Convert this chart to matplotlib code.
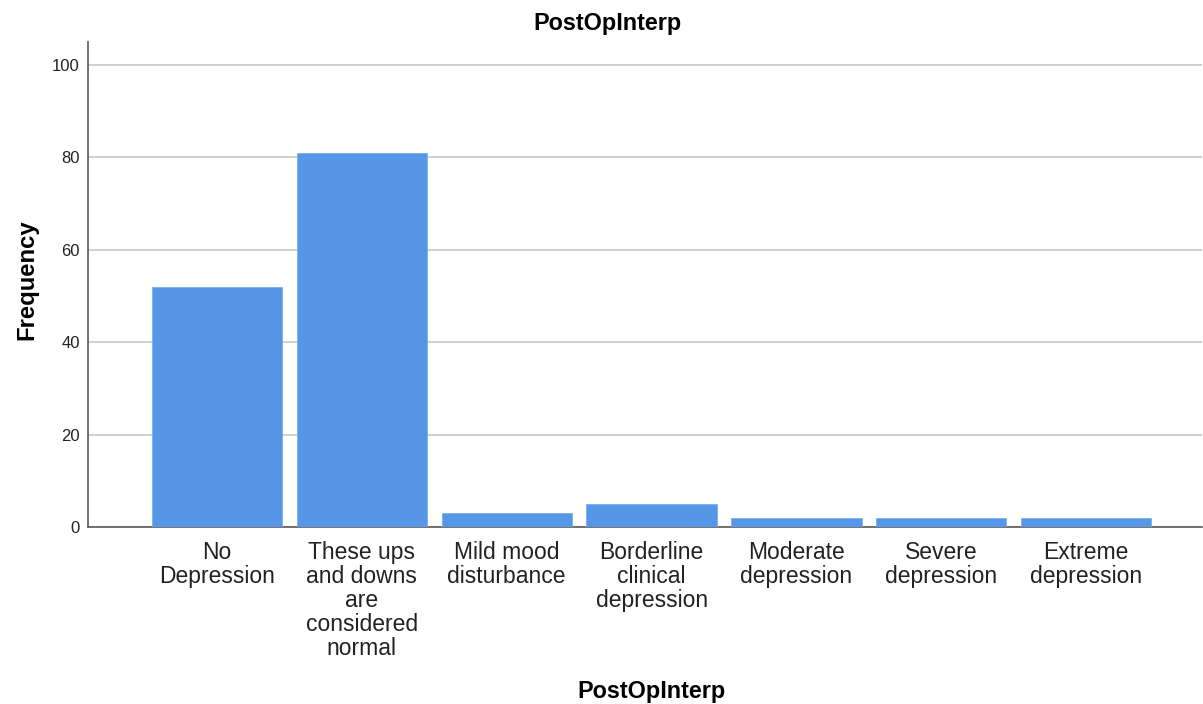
import numpy as np
import matplotlib.pyplot as plt

plt.rcParams['font.family'] = ['Liberation Sans', 'DejaVu Sans']

categories = ["No\nDepression", "These ups\nand downs\nare\nconsidered\nnormal",
              "Mild mood\ndisturbance", "Borderline\nclinical\ndepression",
              "Moderate\ndepression", "Severe\ndepression", "Extreme\ndepression"]
freq = [52, 81, 3, 5, 2, 2, 2]

fig = plt.figure(figsize=(12.03, 7.04), dpi=100)
ax = fig.add_axes([0.0732, 0.2514, 0.9260, 0.689])

x = np.arange(len(categories))
ax.bar(x, freq, width=0.9, color='#5596e6', edgecolor='#7aaeee', linewidth=0.6, zorder=3)

ax.set_xlim(-0.89, 6.8)
ax.set_ylim(0, 105)
ax.set_yticks([0, 20, 40, 60, 80, 100])
ax.yaxis.grid(True, color='#c8c8c8', linewidth=1.2, zorder=0)
ax.set_xticks(x)
ax.set_xticklabels(categories, fontsize=16.5, color='#222222', linespacing=1.06)
ax.tick_params(axis='x', length=0, pad=10)
ax.tick_params(axis='y', length=0, labelsize=12, pad=6, labelcolor='#222222')

for s in ['top', 'right']:
    ax.spines[s].set_visible(False)
for s in ['left', 'bottom']:
    ax.spines[s].set_color('#5a5a5a')
    ax.spines[s].set_linewidth(1.2)

# title is centred on the figure, not the axes
fig.text(0.505, 0.967, 'PostOpInterp', fontsize=16.8, fontweight='bold',
         ha='center', va='center')
ax.set_xlabel('PostOpInterp', fontsize=16.8, fontweight='bold', labelpad=14)
ax.xaxis.label.set_x(0.506)
ax.set_ylabel('Frequency', fontsize=17.2, fontweight='bold', labelpad=10)
ax.yaxis.label.set_y(0.51)

fig.savefig('out.png', dpi=100)
